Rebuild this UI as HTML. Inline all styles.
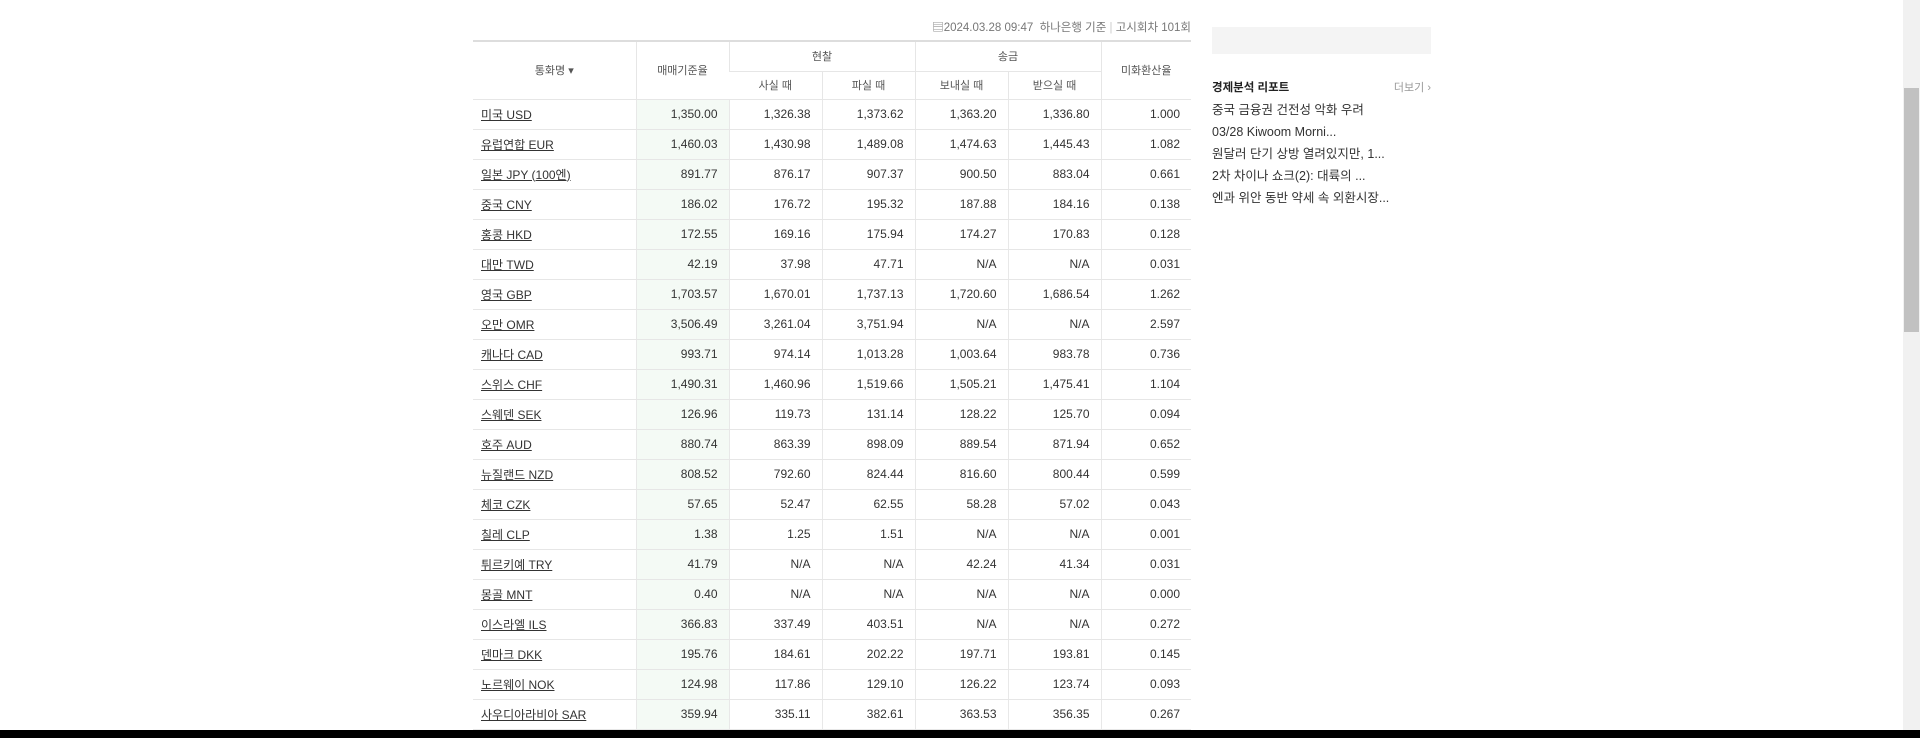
<!DOCTYPE html>
<html><head><meta charset="utf-8">
<style>
body{margin:0;width:1920px;height:738px;overflow:hidden;background:#fff;font-family:"Liberation Sans","Noto Sans CJK KR",sans-serif;position:relative}
.a{position:absolute}
table{border-collapse:collapse;table-layout:fixed;font-size:12px;color:#333}
td,th{border-bottom:1px solid #e6e6e6;padding:0}
th{font-weight:normal;color:#555;font-size:11px;border-left:1px solid #e6e6e6}
th:first-child{border-left:none}
td{height:29px;text-align:right;padding-right:11px;border-left:1px solid #e8e8e8}
td.n{text-align:left;padding-left:8px;border-left:none}
td.n a{color:#333;text-decoration:underline}
td.b{background:#f4faf5}
.side div{font-size:12.5px;color:#333;height:22px;line-height:22px}
</style></head><body>
<div class="a" style="right:729px;top:19px;font-size:11.5px;color:#777">▤2024.03.28 09:47 &nbsp;하나은행 기준 <span style="color:#ccc">|</span> 고시회차 101회</div>
<table class="a" style="left:473px;top:40px;width:718px;border-top:2px solid #ddd">
<colgroup><col style="width:163px"><col style="width:93px"><col style="width:93px"><col style="width:93px"><col style="width:93px"><col style="width:93px"><col style="width:90px"></colgroup>
<thead>
<tr style="height:30px"><th rowspan="2">통화명 ▾</th><th rowspan="2">매매기준율</th><th colspan="2">현찰</th><th colspan="2">송금</th><th rowspan="2">미화환산율</th></tr>
<tr style="height:28px"><th>사실 때</th><th>파실 때</th><th>보내실 때</th><th>받으실 때</th></tr>
</thead>
<tbody id="tb"></tbody></table>
<div class="a" style="left:1212px;top:27px;width:219px;height:27px;background:#f4f4f4"></div>
<div class="a side" style="left:1212px;top:77px;width:219px">
<div style="font-weight:bold;font-size:11.5px;color:#222">경제분석 리포트<span style="float:right;font-weight:normal;color:#999;font-size:11px">더보기 ›</span></div>
<div>중국 금융권 건전성 악화 우려</div>
<div>03/28 Kiwoom Morni...</div>
<div>원달러 단기 상방 열려있지만, 1...</div>
<div>2차 차이나 쇼크(2): 대륙의 ...</div>
<div>엔과 위안 동반 약세 속 외환시장...</div>
</div>
<div class="a" style="left:1903px;top:0;width:17px;height:731px;background:#f1f1f1"><div style="position:absolute;left:1px;top:88px;width:15px;height:244px;background:#c1c1c1"></div></div>
<div class="a" style="left:0;top:730px;width:1920px;height:8px;background:#000"></div>
<script>
const names=["미국 USD","유럽연합 EUR","일본 JPY (100엔)","중국 CNY","홍콩 HKD","대만 TWD","영국 GBP","오만 OMR","캐나다 CAD","스위스 CHF","스웨덴 SEK","호주 AUD","뉴질랜드 NZD","체코 CZK","칠레 CLP","튀르키예 TRY","몽골 MNT","이스라엘 ILS","덴마크 DKK","노르웨이 NOK","사우디아라비아 SAR"];
const base=["1,350.00","1,460.03","891.77","186.02","172.55","42.19","1,703.57","3,506.49","993.71","1,490.31","126.96","880.74","808.52","57.65","1.38","41.79","0.40","366.83","195.76","124.98","359.94"];
const cashBuy=["1,326.38","1,430.98","876.17","176.72","169.16","37.98","1,670.01","3,261.04","974.14","1,460.96","119.73","863.39","792.60","52.47","1.25","N/A","N/A","337.49","184.61","117.86","335.11"];
const cashSell=["1,373.62","1,489.08","907.37","195.32","175.94","47.71","1,737.13","3,751.94","1,013.28","1,519.66","131.14","898.09","824.44","62.55","1.51","N/A","N/A","403.51","202.22","129.10","382.61"];
const send=["1,363.20","1,474.63","900.50","187.88","174.27","N/A","1,720.60","N/A","1,003.64","1,505.21","128.22","889.54","816.60","58.28","N/A","42.24","N/A","N/A","197.71","126.22","363.53"];
const recv=["1,336.80","1,445.43","883.04","184.16","170.83","N/A","1,686.54","N/A","983.78","1,475.41","125.70","871.94","800.44","57.02","N/A","41.34","N/A","N/A","193.81","123.74","356.35"];
const usd=["1.000","1.082","0.661","0.138","0.128","0.031","1.262","2.597","0.736","1.104","0.094","0.652","0.599","0.043","0.001","0.031","0.000","0.272","0.145","0.093","0.267"];
const tb=document.getElementById('tb');
names.forEach((n,i)=>{
 const tr=document.createElement('tr');
 
 
 tr.innerHTML='<td class="n"><a>'+n+'</a></td><td class="b">'+base[i]+'</td><td>'+cashBuy[i]+'</td><td>'+cashSell[i]+'</td><td>'+send[i]+'</td><td>'+recv[i]+'</td><td>'+usd[i]+'</td>';
 tb.appendChild(tr);
});
</script>
</body></html>
